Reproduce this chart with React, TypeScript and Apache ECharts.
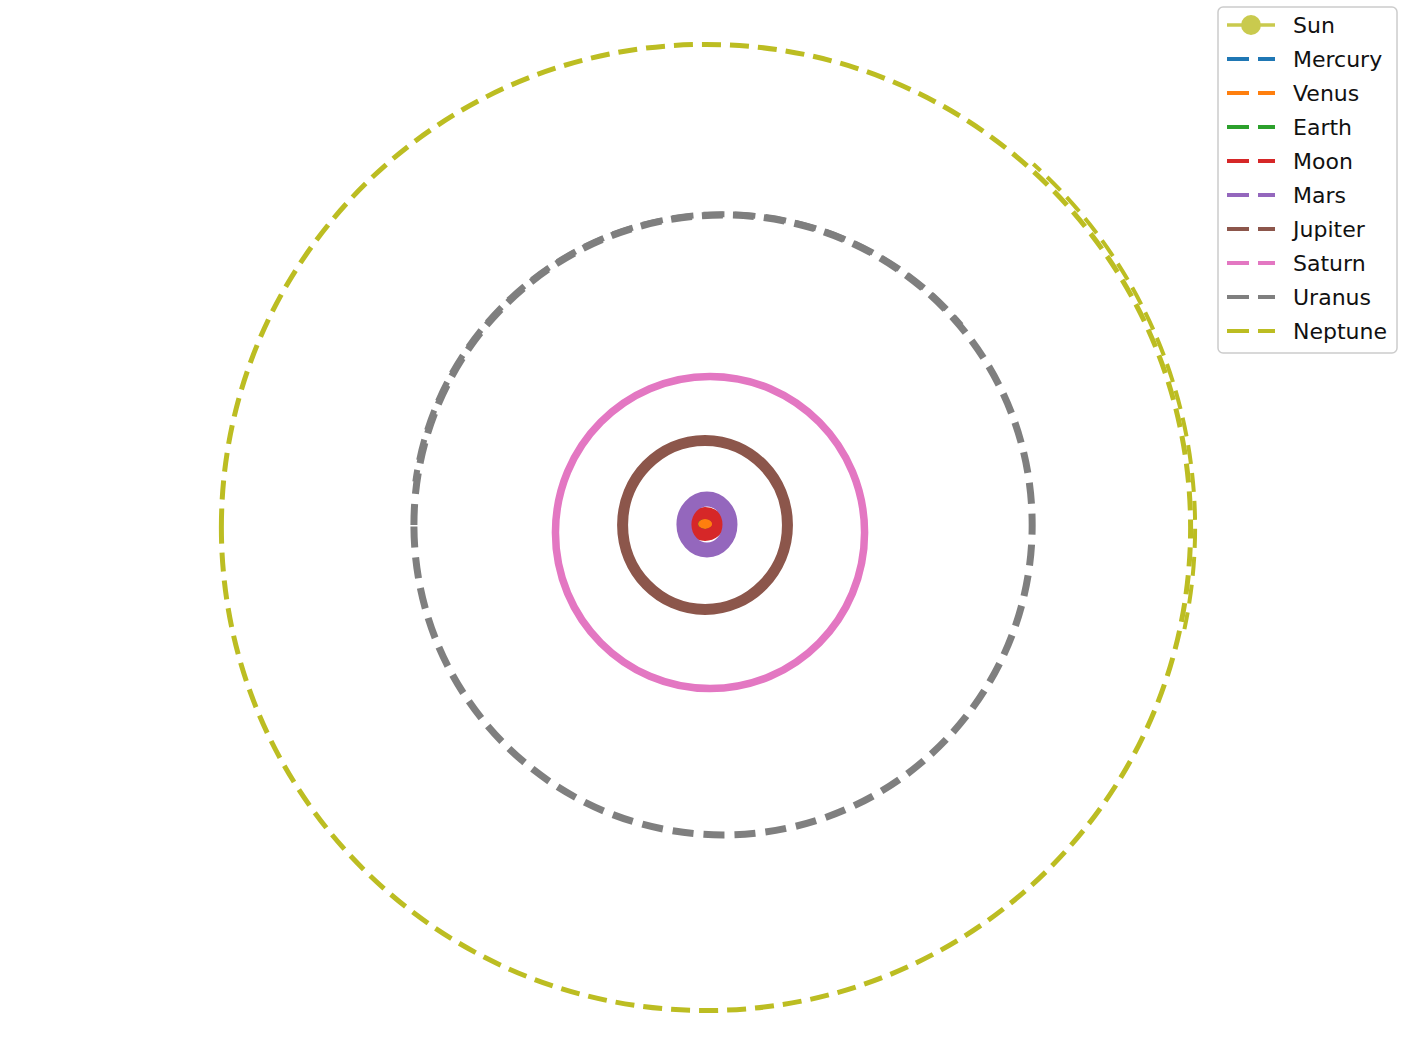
import React, { useEffect, useRef } from "react";
import * as echarts from "echarts";

// ---- data (astronomical units) ----
const planetNames = ["Mercury", "Venus", "Earth", "Moon", "Mars", "Jupiter", "Saturn", "Uranus", "Neptune"];
const orbitCenterX = [0.0, 0.0, -0.1, -0.12, 0.0, -0.12, 0.19, 1.0, -0.06];
const orbitCenterY = [-0.03, -0.03, -0.06, -0.06, -0.09, -0.12, -0.59, -0.12, -0.28];
const orbitRadiusX = [0.04, 0.25, 0.79, 0.81, 1.43, 5.12, 9.6, 19.2, 30.1];
const orbitRadiusY = [0.03, 0.19, 0.66, 0.68, 1.58, 5.25, 9.69, 19.25, 30.0];
const sunPosition = [0, 0];
// second, partial passes of the outer orbits: [cx, cy, r, startDeg, endDeg]
const neptuneSecondPass = [-0.06, -0.28, 30.38, -12, 48];
const uranusSecondPass = [1.0, -0.12, 19.3, 40, 172];

// ---- style ----
const colors: Record<string, string> = {
  Sun: "#bcbd22",
  Mercury: "#1f77b4",
  Venus: "#ff7f0e",
  Earth: "#2ca02c",
  Moon: "#d62728",
  Mars: "#9467bd",
  Jupiter: "#8c564b",
  Saturn: "#e377c2",
  Uranus: "#7f7f7f",
  Neptune: "#bcbd22",
};
const lineWidths: Record<string, number> = {
  Mercury: 1, Venus: 11, Earth: 11, Moon: 12, Mars: 15, Jupiter: 11, Saturn: 7.5, Uranus: 7, Neptune: 5,
};
const lineDashes: Record<string, number[] | null> = {
  Mercury: null, Venus: null, Earth: null, Moon: null, Mars: null, Jupiter: null, Saturn: null,
  Uranus: [21, 10], Neptune: [19, 9],
};
// the innermost traces are so dense that they read as filled discs
const filledTrace: Record<string, boolean> = { Venus: true };

const DASH_ICON = "path://M0,0H22V4H0Z M31,0H48V4H31Z";
const SUN_ICON = "path://M0,9H53V13H0Z M15.5,11A11,11 0 1,1 37.5,11A11,11 0 1,1 15.5,11Z";

function App() {
  const ref = useRef<HTMLDivElement>(null);
  useEffect(() => {
    if (!ref.current) return;
    const chart = echarts.init(ref.current, null, { renderer: "svg" });

    const orbitSeries = planetNames.map((name, i) => ({
      type: "custom",
      name,
      z: 3 + i * 0.01,
      coordinateSystem: "cartesian2d",
      encode: { x: 0, y: 1 },
      itemStyle: { color: colors[name] },
      data: [[orbitCenterX[i], orbitCenterY[i], orbitRadiusX[i], orbitRadiusY[i]]],
      renderItem: (params: any, api: any) => {
        const c = api.coord([api.value(0), api.value(1)]);
        const s = api.size([api.value(2), api.value(3)]);
        return {
          type: "ellipse",
          shape: { cx: c[0], cy: c[1], rx: s[0], ry: s[1] },
          style: {
            fill: filledTrace[name] ? colors[name] : "none",
            stroke: colors[name],
            lineWidth: lineWidths[name],
            lineDash: lineDashes[name] || undefined,
          },
        };
      },
    }));

    const passSeries = (name: string, row: number[]) => ({
      type: "custom",
      name,
      z: 3.5,
      coordinateSystem: "cartesian2d",
      encode: { x: 0, y: 1 },
      itemStyle: { color: colors[name] },
      data: [row],
      renderItem: (params: any, api: any) => {
        const c = api.coord([api.value(0), api.value(1)]);
        const r = api.size([api.value(2), api.value(2)])[0];
        const a0 = (-api.value(4) * Math.PI) / 180;
        const a1 = (-api.value(3) * Math.PI) / 180;
        return {
          type: "arc",
          shape: { cx: c[0], cy: c[1], r, startAngle: a0, endAngle: a1, clockwise: true },
          style: {
            fill: "none",
            stroke: colors[name],
            lineWidth: name === "Neptune" ? 4 : 6,
            lineDash: lineDashes[name] || undefined,
            lineDashOffset: 9,
          },
        };
      },
    });

    const option: any = {
      animation: false,
      backgroundColor: "#ffffff",
      grid: { left: 0, right: 0, top: 0, bottom: 0 },
      xAxis: { type: "value", min: -43.91, max: 44.04, show: false },
      yAxis: { type: "value", min: -32.73, max: 32.48, show: false },
      legend: {
        left: 1218,
        top: 7,
        orient: "vertical",
        padding: [6, 10, 10, 9],
        itemGap: 10,
        itemWidth: 48,
        itemHeight: 22,
        symbolKeepAspect: true,
        selectedMode: false,
        backgroundColor: "rgba(255,255,255,0.8)",
        borderColor: "#cccccc",
        borderWidth: 1.5,
        borderRadius: 5,
        textStyle: {
          fontFamily: "DejaVu Sans",
          fontSize: 22,
          color: "#111111",
          lineHeight: 24,
          padding: [0, 0, 0, 13],
        },
        data: [
          { name: "Sun", icon: SUN_ICON },
          ...planetNames.map((n) => ({ name: n, icon: DASH_ICON })),
        ],
      },
      series: [
        {
          type: "scatter",
          name: "Sun",
          z: 1,
          itemStyle: { color: colors.Sun },
          symbolSize: 6,
          data: [sunPosition],
        },
        ...orbitSeries,
        passSeries("Uranus", uranusSecondPass),
        passSeries("Neptune", neptuneSecondPass),
      ],
    };
    chart.setOption(option);
    return () => chart.dispose();
  }, []);
  return (
    <div
      ref={ref}
      style={{ position: "fixed", left: 0, top: 0, width: 1416, height: 1050, background: "#fff" }}
    />
  );
}

export default App;
